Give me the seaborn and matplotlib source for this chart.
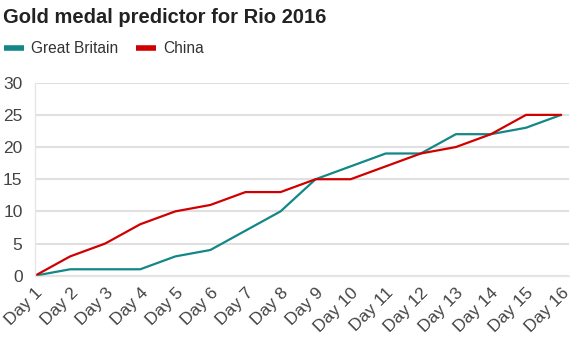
import matplotlib
matplotlib.use("Agg")
import matplotlib.pyplot as plt
import seaborn as sns
import pandas as pd

days = [f"Day {i}" for i in range(1, 17)]
great_britain = [0, 1, 1, 1, 3, 4, 7, 10, 15, 17, 19, 19, 22, 22, 23, 25]
china = [0, 3, 5, 8, 10, 11, 13, 13, 15, 15, 17, 19, 20, 22, 25, 25]
series_names = ["Great Britain", "China"]
colors = ["#138787", "#d10000"]
y_ticks = [0, 5, 10, 15, 20, 25, 30]

df = pd.DataFrame({
    "day": days * 2,
    "idx": list(range(len(days))) * 2,
    "medals": great_britain + china,
    "country": [series_names[0]] * len(days) + [series_names[1]] * len(days),
})

sns.set_theme(style="white")
plt.rcParams["font.family"] = ["Liberation Sans", "DejaVu Sans"]

fig = plt.figure(figsize=(5.79, 3.57), dpi=100)
ax = fig.add_axes([0.0605, 0.2277, 0.9225, 0.5406])

sns.lineplot(data=df, x="idx", y="medals", hue="country", hue_order=series_names,
             palette=colors, linewidth=1.6, ax=ax, legend=True)

ax.set_xlim(0, 15.23)
ax.set_ylim(0, 30)
ax.set_yticks(y_ticks)
ax.set_xticks(range(len(days)))
ax.set_xticklabels(days, rotation=45, ha="right", rotation_mode="anchor")
ax.set_xlabel("")
ax.set_ylabel("")
ax.grid(axis="y", color="#e0e0e0", linewidth=1.5)
ax.set_axisbelow(True)
for s in ["top", "right"]:
    ax.spines[s].set_visible(False)
for s in ["left", "bottom"]:
    ax.spines[s].set_color("#e6e6e6")
    ax.spines[s].set_linewidth(1)
ax.tick_params(axis="both", colors="#e0e0e0", labelcolor="#444444", length=4, width=1,
               labelsize=12.5, direction="out")
ax.tick_params(axis="x", pad=3)
ax.tick_params(axis="y", pad=5)

leg = ax.legend(loc="upper left", bbox_to_anchor=(0.007, 0.885), bbox_transform=fig.transFigure,
                ncol=2, frameon=False, fontsize=11.2, handlelength=1.3, handletextpad=0.45,
                columnspacing=1.1, borderaxespad=0, borderpad=0)
for line in leg.get_lines():
    line.set_linewidth(4)
    line.set_solid_capstyle("butt")
for t in leg.get_texts():
    t.set_color("#333333")

fig.text(0.005, 0.95, "Gold medal predictor for Rio 2016", fontsize=14.5, fontweight="bold",
         color="#222222", va="center", ha="left")

fig.savefig("out.png", dpi=100)
